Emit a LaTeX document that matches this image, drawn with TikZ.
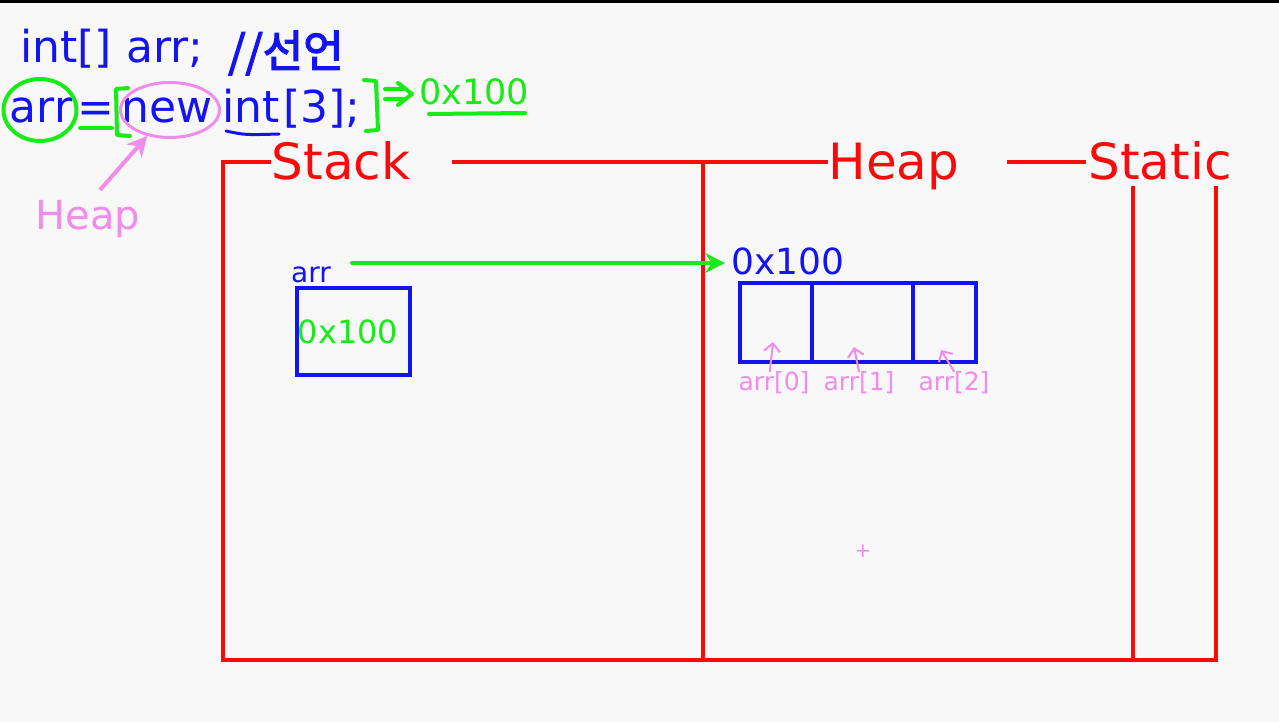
\documentclass[tikz,border=0pt]{standalone}
\usepackage{fontspec}
\setmainfont{DejaVu Sans}
\newfontfamily\krfont[FakeBold=3]{Noto Sans CJK KR}
\usepackage{tikz}
\usetikzlibrary{arrows.meta}
\usetikzlibrary{shapes}
\definecolor{penblue}{RGB}{20,20,240}
\definecolor{penred}{RGB}{250,10,10}
\definecolor{pengreen}{RGB}{25,235,25}
\definecolor{penpink}{RGB}{240,140,235}
\definecolor{paper}{RGB}{248,248,248}
\tikzset{
  redline/.style={draw=penred,line width=2pt},
  bluebox/.style={draw=penblue,line width=2pt,inner sep=0pt},
  greenpen/.style={draw=pengreen,line width=2pt,line cap=round,line join=round},
  pinkpen/.style={draw=penpink,line width=1pt,line cap=round},
  lbl/.style={inner sep=0pt}
}
\newcommand{\codenode}{\node[lbl,text=penblue,font=\fontsize{22}{26}\selectfont]}
\newcommand{\areanode}{\node[lbl,text=penred,font=\fontsize{25}{30}\selectfont]}
\newcommand{\idxnode}{\node[lbl,text=penpink,font=\fontsize{12.5}{15}\selectfont]}
\newcommand{\cellnode}{\node[bluebox,rectangle]}

\begin{document}
\begin{tikzpicture}[x=0.5pt,y=-0.5pt]
      \fill[paper] (0,0) rectangle (1279,722);
      \useasboundingbox (0,0) rectangle (1279,722);
      \fill[black] (0,0) rectangle (1279,3);
      % code lines
      \codenode[anchor=base west] (decl) at (20,63) {int[] arr;};
      \node[lbl,text=penblue,font=\krfont\fontsize{22}{26}\selectfont] (note) at (286,53) {//선언};
      \codenode[anchor=base] (lhs) at (41,123) {arr};
      \codenode[anchor=base] (eq) at (96,123) {=};
      \codenode[anchor=base] (kw) at (167,123) {new};
      \codenode[anchor=base] (ty) at (251,123) {int};
      \codenode[anchor=base] (sz) at (322,123) {[3];};
      \node[lbl,text=pengreen,font=\fontsize{17.5}{20}\selectfont] (res) at (474,92) {0x100};
      \node[ellipse,draw=pengreen,line width=2pt,minimum width=36.5pt,minimum height=31pt] (lhsring) at (40,110) {};
      \node[ellipse,draw=penpink,line width=1.5pt,minimum width=49.5pt,minimum height=27.5pt] (kwring) at (170,110) {};
      \draw[greenpen] (80,128) -- (112,128); % under =
      \draw[greenpen] (128,88) -- (116,89) -- (117,135) -- (130,136);
      \draw[greenpen] (364,80) -- (376,81) -- (378,130) -- (366,131);
      \draw[greenpen] (385,89) -- (405,89) (385,99) -- (405,99) (398,83) -- (412,94) -- (398,105);
      \draw[greenpen] (429,114) -- (525,113);
      \draw[draw=penblue,line width=1.5pt,line cap=round] (226,131) .. controls (245,135) .. (279,134);
      % heap note
      \node[lbl,text=penpink,font=\fontsize{20}{24}\selectfont,anchor=base] (hnote) at (88,229) {Heap};
      \coordinate (htail) at (100,190);
      \draw[draw=penpink,line width=2pt,-{Stealth[length=10pt,width=10pt]}] (htail) -- (kwring);
      % memory areas
      \areanode[anchor=base] (stk) at (341,179) {Stack};
      \areanode[anchor=base] (hp) at (894,179) {Heap};
      \areanode[anchor=base] (sta) at (1160,179) {Static};
      \coordinate (tl) at (223,162);
      \coordinate (bl) at (223,660);
      \coordinate (dt) at (703,162);
      \coordinate (db) at (703,660);
      \coordinate (st) at (1133,186);
      \coordinate (sb) at (1133,660);
      \coordinate (rt) at (1216,186);
      \coordinate (rb) at (1216,660);
      \coordinate (ga) at (452,162);
      \coordinate (gb) at (1007,162);
      \draw[redline] (stk.west |- tl) -- (tl) -- (bl) -- (rb) -- (rt);
      \draw[redline] (ga) -- (hp.west |- ga);
      \draw[redline] (gb) -- ([xshift=-1pt]sta.west |- gb);
      \draw[redline] (dt) -- (db);
      \draw[redline] (st) -- (sb);
      % stack
      \node[lbl,text=penblue,font=\fontsize{14}{16}\selectfont,anchor=base] (var) at (311,282) {arr};
      \cellnode[minimum width=56.5pt,minimum height=43.5pt] (slot) at (353,331) {};
      \node[lbl,text=pengreen,font=\fontsize{16}{18}\selectfont,anchor=base] (ref) at (348,343) {0x100};
      % heap
      \node[lbl,text=penblue,font=\fontsize{18}{20}\selectfont,anchor=base] (addr) at (788,274) {0x100};
      \cellnode[minimum width=36pt,minimum height=39.5pt] (cell0) at (776,322.5) {};
      \cellnode[minimum width=50.5pt,minimum height=39.5pt] (cell1) at (862.5,322.5) {};
      \cellnode[minimum width=31.5pt,minimum height=39.5pt] (cell2) at (944.5,322.5) {};
      \coordinate (atail) at (352,263);
      \draw[greenpen,-{Stealth[length=10pt,width=10pt]}] (atail) -- ([xshift=-3pt]addr.west |- atail);
      \idxnode (lab0) at (774,383) {arr[0]};
      \idxnode (lab1) at (859,383) {arr[1]};
      \idxnode (lab2) at (954,383) {arr[2]};
      \coordinate (tip0) at (773,342);
      \coordinate (tip1) at (854,347);
      \coordinate (tip2) at (941,350);
      \draw[pinkpen,-{Straight Barb[length=4pt,width=8pt]}] (lab0.110) -- (tip0);
      \draw[pinkpen,-{Straight Barb[length=4pt,width=8pt]}] (lab1.north) -- (tip1);
      \draw[pinkpen,-{Straight Barb[length=4pt,width=8pt]}] (lab2.north) -- (tip2);
      \node[lbl,text=penpink,font=\fontsize{10}{10}\selectfont] (cursor) at (863,551) {+};
\end{tikzpicture}
\end{document}
